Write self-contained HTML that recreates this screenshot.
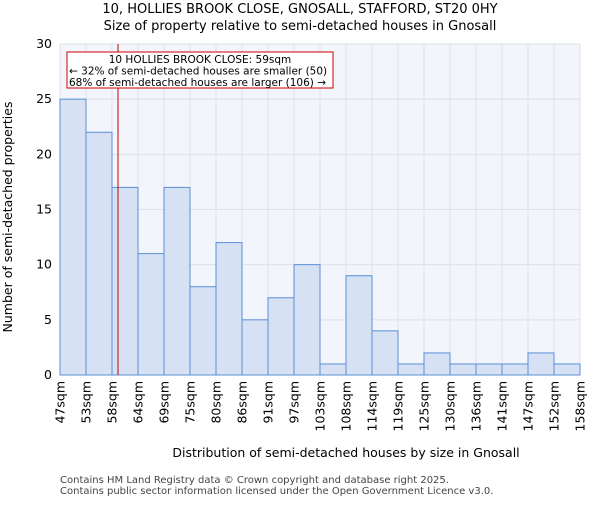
<!DOCTYPE html>
<html><head><meta charset="utf-8"><style>body{margin:0;background:#fff}svg text{font-family:"DejaVu Sans","Liberation Sans",sans-serif}</style></head>
<body>
<svg id="c" width="600" height="500" xmlns="http://www.w3.org/2000/svg">
<text x="300" y="13" text-anchor="middle" font-size="13">10, HOLLIES BROOK CLOSE, GNOSALL, STAFFORD, ST20 0HY</text>
<text x="300" y="30" text-anchor="middle" font-size="13">Size of property relative to semi-detached houses in Gnosall</text>
<rect x="60" y="44" width="520" height="331" fill="#f2f5fb"/>
<g id="grid"></g><g id="bars"></g><g id="axes"></g>
<line x1="118" y1="44" x2="118" y2="375" stroke="#cc0000" stroke-width="1"/>
<rect x="67" y="52" width="266" height="36" fill="#fff" stroke="#cc0000"/>
<text x="200" y="63" text-anchor="middle" font-size="10.5">10 HOLLIES BROOK CLOSE: 59sqm</text>
<text x="69" y="74.5" font-size="10.5">← 32% of semi-detached houses are smaller (50)</text>
<text x="69" y="86" font-size="10.5">68% of semi-detached houses are larger (106) →</text>
<text x="346" y="457" text-anchor="middle" font-size="12.5">Distribution of semi-detached houses by size in Gnosall</text>
<text transform="translate(12,217) rotate(-90)" text-anchor="middle" font-size="12.5">Number of semi-detached properties</text>
<text x="60" y="483" font-size="10" fill="#444">Contains HM Land Registry data © Crown copyright and database right 2025.</text>
<text x="60" y="494" font-size="10" fill="#444">Contains public sector information licensed under the Open Government Licence v3.0.</text>
</svg>
<script>
const categories=["47sqm","53sqm","58sqm","64sqm","69sqm","75sqm","80sqm","86sqm","91sqm","97sqm","103sqm","108sqm","114sqm","119sqm","125sqm","130sqm","136sqm","141sqm","147sqm","152sqm","158sqm"];
const counts=[25,22,17,11,17,8,12,5,7,10,1,9,4,1,2,1,1,1,2,1];
const yTicks=[0,5,10,15,20,25,30];
const NS="http://www.w3.org/2000/svg";
const x0=60,x1=580,y0=375,y1=44,yMax=30;
const bw=(x1-x0)/counts.length;
const xs=i=>x0+i*bw, ys=v=>y0-(v/yMax)*(y0-y1);
function mk(t,a,p){const e=document.createElementNS(NS,t);for(const k in a)e.setAttribute(k,a[k]);p.appendChild(e);return e;}
const g=document.getElementById('grid'),b=document.getElementById('bars'),ax=document.getElementById('axes');
for(let i=0;i<=counts.length;i++){const l=mk('line',{x1:xs(i),x2:xs(i),y1:y1,y2:y0,stroke:'#dde1ea'},g);

}
yTicks.forEach(v=>{const l=mk('line',{x1:x0,x2:x1,y1:ys(v),y2:ys(v),stroke:'#dde1ea'},g);


const t=mk('text',{x:x0-8,y:ys(v)+4,'text-anchor':'end','font-size':12.5},ax);t.textContent=v;

});
counts.forEach((v,i)=>{const r=mk('rect',{x:xs(i),y:ys(v),width:bw,height:y0-ys(v),fill:'#d6e2f4',stroke:'#5a8ed6','stroke-width':1},b);

});
categories.forEach((c,i)=>{const x=xs(i);const t=mk('text',{transform:`translate(${x+4.5},${y0+6}) rotate(-90)`,'text-anchor':'end','font-size':12.5},ax);t.textContent=c;

});
</script>
</body></html>
